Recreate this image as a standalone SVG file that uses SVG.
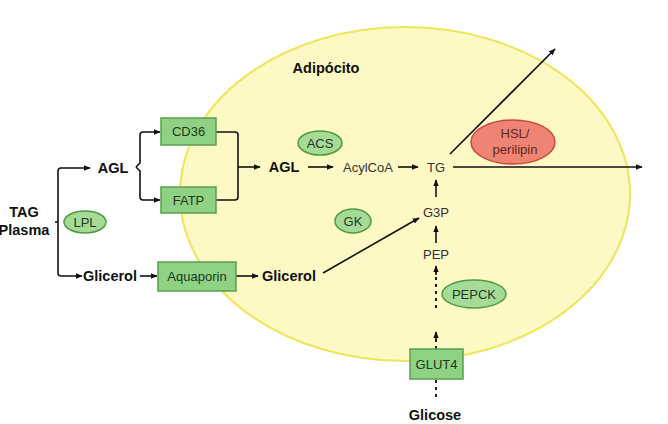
<svg xmlns="http://www.w3.org/2000/svg" width="668" height="424" viewBox="0 0 668 424">
<defs>
<marker id="ah" viewBox="0 0 10 10" refX="9" refY="5" markerWidth="7" markerHeight="7" orient="auto" markerUnits="userSpaceOnUse">
<path d="M0,1 L10,5 L0,9 Z" fill="#111"/>
</marker>
</defs>
<style>
.bold{font-family:"Liberation Sans",Arial,sans-serif;font-weight:bold;font-size:14.5px;fill:#111}
.lbl{font-family:"Liberation Sans",Arial,sans-serif;font-size:13px;fill:#333}
.box{fill:#8fd283;stroke:#5a9e4e;stroke-width:1.5}
.enz{fill:#a6db97;stroke:#4f9a43;stroke-width:1.5}
.btxt{font-family:"Liberation Sans",Arial,sans-serif;font-size:13px;fill:#243524}
.ln{fill:none;stroke:#111;stroke-width:1.6}
.dot{fill:none;stroke:#222;stroke-width:2;stroke-dasharray:3 4}
</style>
<rect width="668" height="424" fill="#fff"/>
<g id="adipocito">
<ellipse cx="405" cy="194" rx="225" ry="167" fill="#fdf8c4" stroke="#ece65a" stroke-width="2"/>
<text class="bold" x="326" y="73" text-anchor="middle">Adipócito</text>
</g>
<g id="connectors">
<path class="ln" d="M58 222 V171 Q58 168 61 168 H90" marker-end="url(#ah)"/>
<path class="ln" d="M58 222 V273 Q58 276 61 276 H82" marker-end="url(#ah)"/>
<path class="ln" d="M58 222 L55 222"/>
<path class="ln" d="M136 167 L140 163 V135 Q140 132 143 132 H160" marker-end="url(#ah)"/>
<path class="ln" d="M136 167 L140 171 V197 Q140 200 143 200 H160" marker-end="url(#ah)"/>
<path class="ln" d="M216 132 H235 Q238 132 238 135 V197 Q238 200 235 200 H216"/>
<path class="ln" d="M238 167 H260" marker-end="url(#ah)"/>
<path class="ln" d="M308 167 H333" marker-end="url(#ah)"/>
<path class="ln" d="M398 167 H418" marker-end="url(#ah)"/>
<path class="ln" d="M453 167 H642" marker-end="url(#ah)"/>
<path class="ln" d="M450 154 L555 49" marker-end="url(#ah)"/>
<path class="ln" d="M436 197 V180" marker-end="url(#ah)"/>
<path class="ln" d="M436 243 V226" marker-end="url(#ah)"/>
<path class="dot" d="M436 308 V272"/>
<path class="ln" d="M436 275 V266" marker-end="url(#ah)"/>
<path class="dot" d="M436 349 V338"/>
<path class="ln" d="M436 340 V332" marker-end="url(#ah)"/>
<path class="dot" d="M436 380 V398"/>
<path class="ln" d="M323 273 L419 218" marker-end="url(#ah)"/>
<path class="ln" d="M140 276 H157" marker-end="url(#ah)"/>
<path class="ln" d="M236 276 H258" marker-end="url(#ah)"/>
</g>
<g id="tag"><text class="bold" x="24" y="217" text-anchor="middle">TAG</text><text class="bold" x="24" y="235" text-anchor="middle">Plasma</text></g>
<g id="agl1"><text class="bold" x="113" y="173" text-anchor="middle">AGL</text></g>
<g id="glicerol1"><text class="bold" x="110" y="281" text-anchor="middle">Glicerol</text></g>
<g id="lpl"><ellipse class="enz" cx="85" cy="222" rx="21" ry="11"/><text class="btxt" x="85" y="227" text-anchor="middle">LPL</text></g>
<g id="cd36"><rect class="box" x="161" y="118" width="55" height="27"/><text class="btxt" x="188.5" y="136" text-anchor="middle">CD36</text></g>
<g id="fatp"><rect class="box" x="161" y="187" width="55" height="26"/><text class="btxt" x="188.5" y="205" text-anchor="middle">FATP</text></g>
<g id="aquaporin"><rect class="box" x="158" y="262" width="78" height="29"/><text class="btxt" x="197" y="281" text-anchor="middle">Aquaporin</text></g>
<g id="agl2"><text class="bold" x="284" y="172" text-anchor="middle">AGL</text></g>
<g id="acs"><ellipse class="enz" cx="320" cy="143" rx="22" ry="12"/><text class="btxt" x="320" y="148" text-anchor="middle">ACS</text></g>
<g id="acylcoa"><text class="lbl" x="368" y="172" text-anchor="middle">AcylCoA</text></g>
<g id="tg"><text class="lbl" x="436" y="172" text-anchor="middle">TG</text></g>
<g id="hsl"><ellipse cx="513" cy="142" rx="42" ry="22" fill="#f08474" stroke="#c84a3c" stroke-width="1.5"/><text class="lbl" x="515" y="138" text-anchor="middle" style="fill:#5a2a22">HSL/</text><text class="lbl" x="515" y="154" text-anchor="middle" style="fill:#5a2a22">perilipin</text></g>
<g id="gk"><ellipse class="enz" cx="353" cy="221" rx="18" ry="12"/><text class="btxt" x="353" y="226" text-anchor="middle">GK</text></g>
<g id="g3p"><text class="lbl" x="436" y="217" text-anchor="middle">G3P</text></g>
<g id="glicerol2"><text class="bold" x="289" y="281" text-anchor="middle">Glicerol</text></g>
<g id="pep"><text class="lbl" x="436" y="259" text-anchor="middle">PEP</text></g>
<g id="pepck"><ellipse class="enz" cx="474" cy="294" rx="32" ry="14"/><text class="btxt" x="474" y="299" text-anchor="middle">PEPCK</text></g>
<g id="glut4"><rect class="box" x="410" y="349" width="53" height="30"/><text class="btxt" x="436.5" y="369" text-anchor="middle">GLUT4</text></g>
<g id="glicose"><text class="bold" x="435" y="420" text-anchor="middle">Glicose</text></g>
</svg>
